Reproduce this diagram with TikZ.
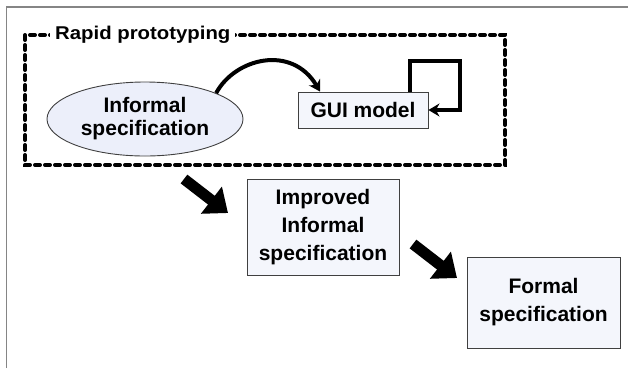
\documentclass[tikz,border=0pt]{standalone}
\usepackage{fontspec}
\setmainfont{Liberation Sans}
\newfontfamily\labelfont[FakeStretch=1.1]{Liberation Sans}
\usetikzlibrary{arrows.meta,shapes.geometric}
\definecolor{boxfill}{HTML}{F4F6FC}
\definecolor{ellfill}{HTML}{ECEFFA}
\definecolor{framegrey}{HTML}{858585}
\tikzset{
  specbox/.style={draw=black!75, line width=0.9pt, fill=boxfill, inner sep=0pt,
    align=center, font=\fontsize{21}{28}\selectfont\bfseries},
  specell/.style={ellipse, draw=black!75, line width=0.9pt, fill=ellfill, inner sep=0pt,
    align=center, font=\fontsize{21}{23}\selectfont\bfseries},
  groupline/.style={line width=4pt, dash pattern=on 5pt off 5pt, line cap=round},
  flowline/.style={line width=4pt, -{Stealth[length=11pt,width=13pt]}},
  blockarrow/.style={line width=11pt, -{Triangle[length=21pt,width=33pt]}},
}
\begin{document}
\begin{tikzpicture}[x=1pt,y=-1pt]
  \useasboundingbox (0,0) rectangle (628,368);
  % partial outer frame
  \draw[framegrey, line width=1.6pt] (6.5,368) -- (6.5,7) -- (628,7);

  % rapid prototyping group
  \draw[groupline] (25,35) rectangle (505,165);
  \node[fill=white, inner xsep=5pt, inner ysep=3pt, anchor=west,
        font=\labelfont\fontsize{18.5}{20}\selectfont\bfseries] (title) at (50,35) {Rapid prototyping};

  \node[specell, minimum width=196pt, minimum height=74pt] (inf) at (145,119) {Informal\\specification};
  \node[specbox, minimum width=130pt, minimum height=36pt] (gui) at (363,110) {GUI model};

  \node[specbox, minimum width=152pt, minimum height=96pt] (imp) at (323,227) {Improved\\Informal\\specification};
  \node[specbox, minimum width=153pt, minimum height=91pt] (fml) at (543.5,302.5) {Formal\\specification};

  % prototyping arrows
  \draw[flowline] (inf.20) .. controls (235,58) and (292,44) .. ([xshift=-43pt]gui.north);
  \draw[flowline] ([xshift=-18pt]gui.north east) -- ++(0,-31) -- ++(50,0) |- (gui.east);

  % refinement arrows
  \coordinate (a1s) at (184,179);
  \coordinate (a1e) at (228,213);
  \coordinate (a2s) at (413,244);
  \coordinate (a2e) at (457,278);
  \draw[blockarrow] (a1s) -- (a1e);
  \draw[blockarrow] (a2s) -- (a2e);
\end{tikzpicture}
\end{document}
